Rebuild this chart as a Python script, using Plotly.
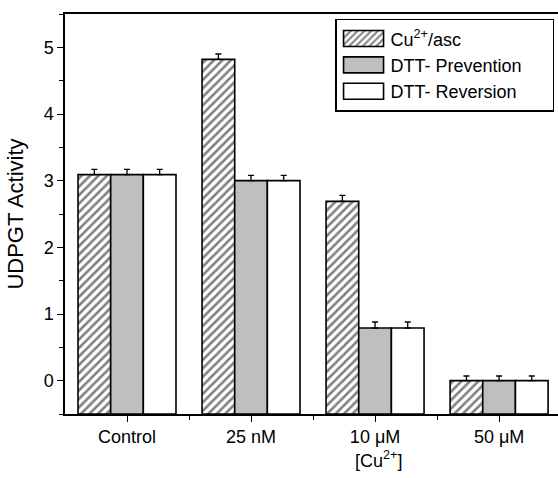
import plotly.graph_objects as go

categories = ["Control", "25 nM", "10 μM", "50 μM"]
series_names = ["Cu<sup>2+</sup>/asc", "DTT- Prevention", "DTT- Reversion"]
cu_asc = [3.09, 4.82, 2.69, 0.00]
dtt_prev = [3.09, 3.00, 0.79, 0.00]
dtt_rev = [3.09, 3.00, 0.79, 0.00]
err_cu = [0.08, 0.08, 0.09, 0.07]
err_prev = [0.08, 0.08, 0.09, 0.07]
err_rev = [0.08, 0.08, 0.09, 0.07]
y_ticks = [0, 1, 2, 3, 4, 5]
base_value = -0.5

xpos = list(range(len(categories)))

styles = [
    dict(color="white", pattern=dict(shape="/", size=6, solidity=0.42, fgcolor="black", bgcolor="white", fillmode="overlay")),
    dict(color="#bfbfbf"),
    dict(color="white"),
]

pad = "\u00a0" * 5
fig = go.Figure()
for name, vals, errs, st in zip(series_names, [cu_asc, dtt_prev, dtt_rev], [err_cu, err_prev, err_rev], styles):
    marker = dict(color=st["color"], line=dict(color="black", width=1.6))
    if "pattern" in st:
        marker["pattern"] = st["pattern"]
    fig.add_trace(go.Bar(
        x=xpos, y=[v - base_value for v in vals], base=base_value, name=name + pad,
        marker=marker,
        error_y=dict(type="data", array=errs, arrayminus=[0] * len(errs), symmetric=False,
                     color="black", thickness=1.3, width=3),
    ))

font = "Liberation Sans, Arial, sans-serif"
fig.update_layout(
    width=558, height=478,
    margin=dict(l=65, r=0, t=14, b=64),
    paper_bgcolor="white", plot_bgcolor="white",
    barmode="group", bargap=0.21, bargroupgap=0,
    font=dict(family=font, size=18, color="black"),
    showlegend=True,
    legend=dict(x=0.992, y=0.988, xanchor="right", yanchor="top",
                bordercolor="black", borderwidth=1.5, bgcolor="white",
                font=dict(size=18), tracegroupgap=0, itemwidth=44),
    xaxis=dict(range=[-0.5, 3.475], tickvals=xpos, ticktext=categories,
               showline=True, linecolor="black", linewidth=1.5, mirror=True,
               ticks="outside", ticklen=6, tickwidth=1.2, tickcolor="black",
               minor=dict(tickvals=[0.5, 1.5, 2.5], ticks="outside", ticklen=4, tickwidth=1.2, tickcolor="black"),
               showgrid=False, zeroline=False, tickfont=dict(size=18)),
    yaxis=dict(range=[-0.5, 5.5], tickvals=y_ticks,
               showline=True, linecolor="black", linewidth=1.5, mirror=False,
               ticks="outside", ticklen=6, tickwidth=1.2, tickcolor="black",
               minor=dict(dtick=0.5, tick0=0, ticks="outside", ticklen=4, tickwidth=1.2, tickcolor="black", showgrid=False),
               showgrid=False, zeroline=False, tickfont=dict(size=18),
               title=dict(text="UDPGT Activity", font=dict(size=22), standoff=14)),
    annotations=[dict(text="[Cu<sup>2+</sup>]", xref="paper", yref="paper", x=0.635, y=-0.08,
                      xanchor="center", yanchor="top", showarrow=False, font=dict(size=18))],
)

post = """
var gd = document.getElementsByClassName('plotly-graph-div')[0];
function fixLegend(){
  gd.querySelectorAll('.legend .legendpoints path').forEach(function(p){
    p.setAttribute('d','M20,8H-20V-8H20Z');
  });
}
fixLegend();
gd.on('plotly_afterplot', fixLegend);
"""

fig.write_html("out.html", post_script=post)
